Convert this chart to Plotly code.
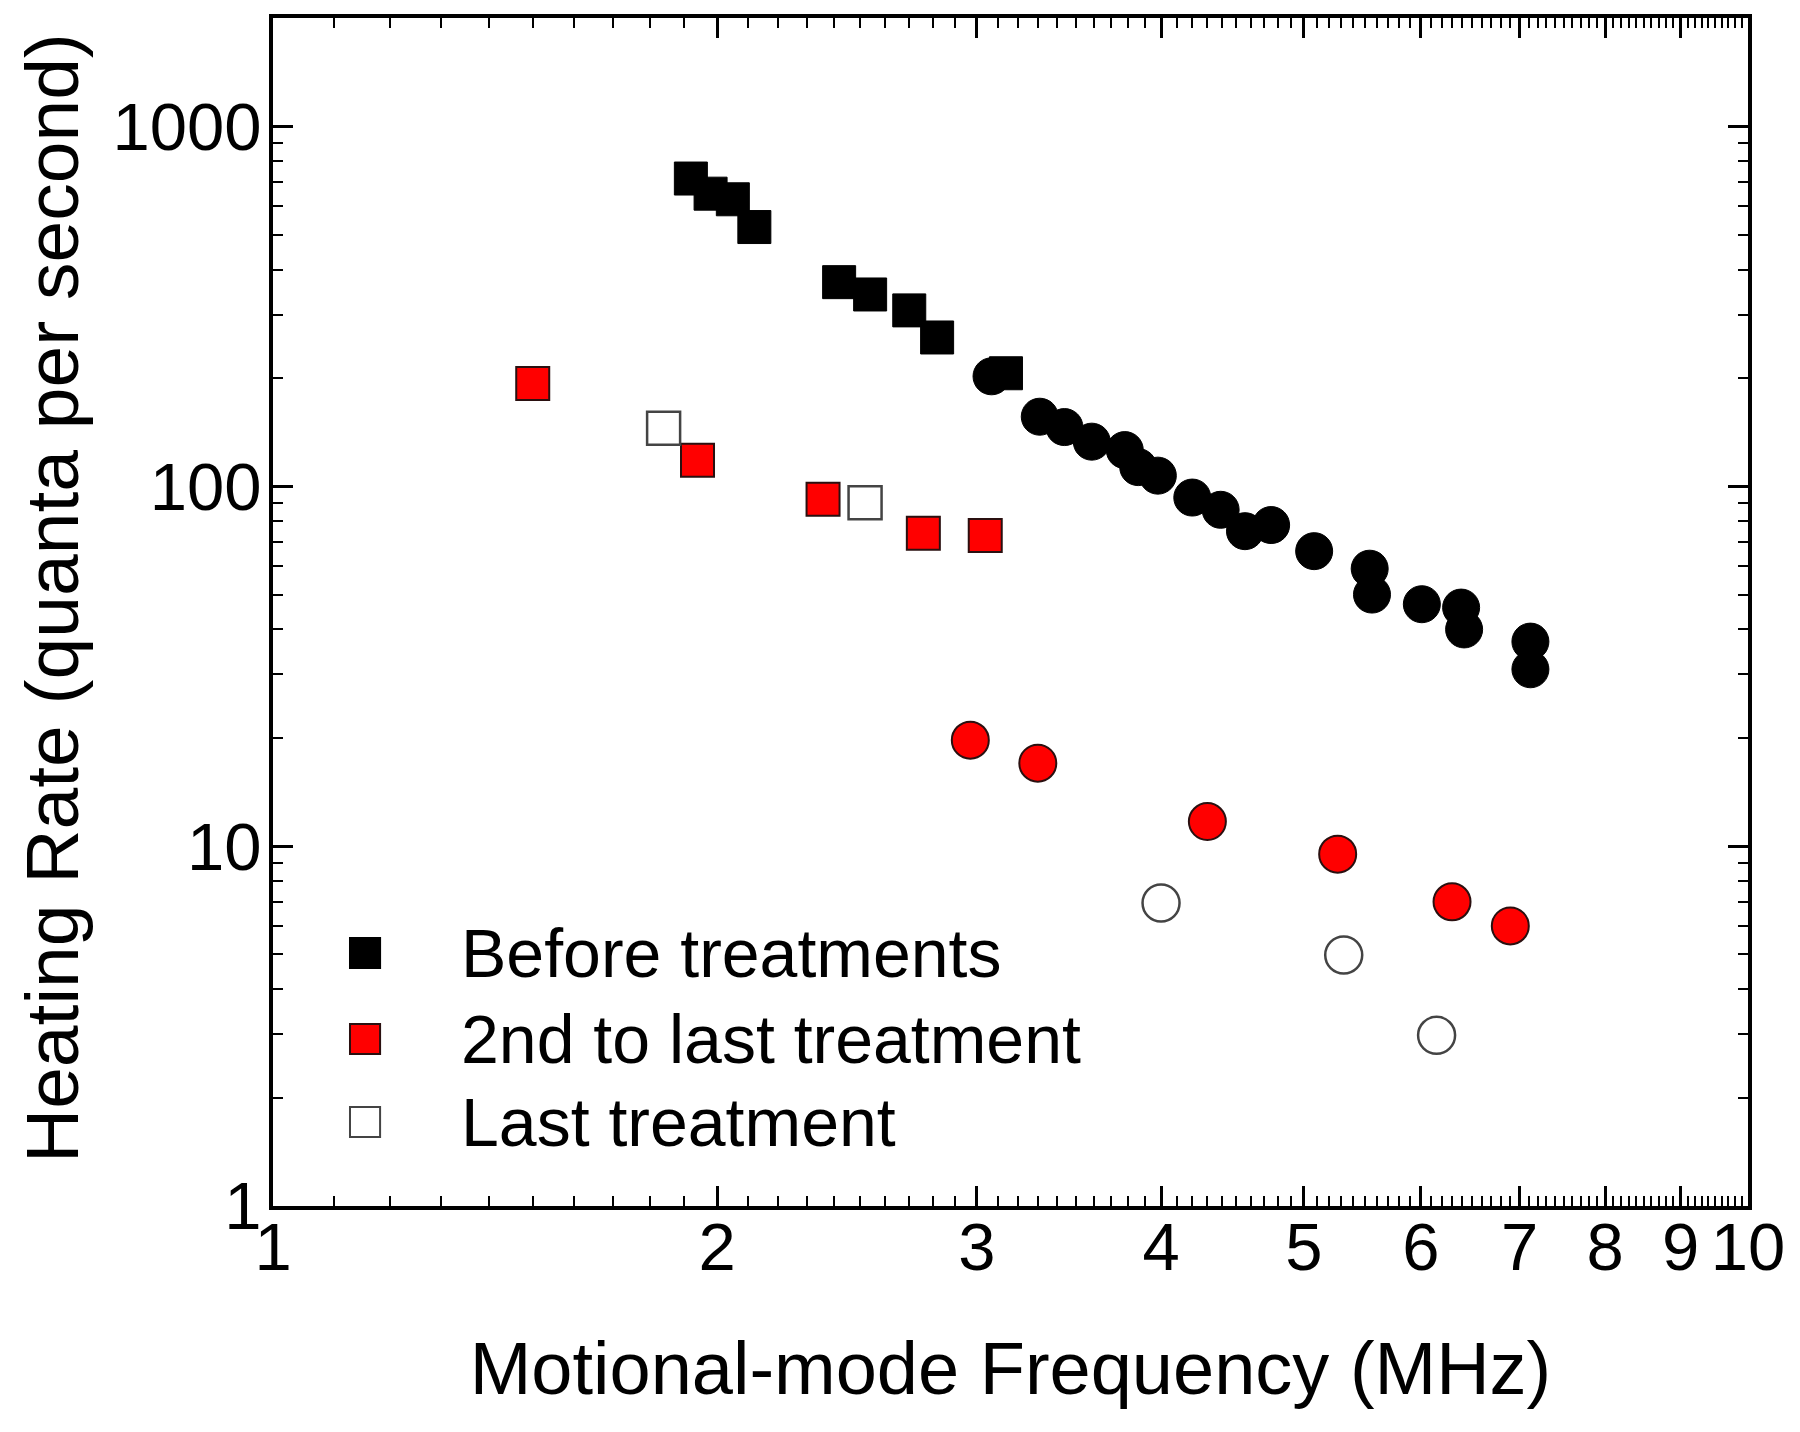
import plotly.graph_objects as go

# ---------------- data ----------------
before_sq_x = [1.92, 1.98, 2.05, 2.12, 2.42, 2.54, 2.70, 2.82, 3.14]
before_sq_y = [716, 650, 627, 525, 369, 341, 308, 259, 206]
before_ci_x = [3.07, 3.31, 3.44, 3.59, 3.78, 3.86, 3.98, 4.20, 4.39, 4.56,
               4.75, 5.08, 5.54, 5.56, 6.01, 6.39, 6.42, 7.12, 7.12]
before_ci_y = [202, 156, 146, 133, 126, 113, 107, 93, 86, 75,
               78, 66, 59, 50, 47, 46, 40, 37, 31]

second_sq_x = [1.50, 1.94, 2.36, 2.76, 3.04]
second_sq_y = [193, 118, 92, 74, 73]
second_ci_x = [2.97, 3.30, 4.30, 5.27, 6.30, 6.90]
second_ci_y = [19.7, 17.0, 11.7, 9.5, 7.0, 6.0]

last_sq_x = [1.84, 2.52]
last_sq_y = [145, 90]
last_ci_x = [4.00, 5.32, 6.15]
last_ci_y = [6.95, 4.98, 2.98]

legend_labels = ["Before treatments", "2nd to last treatment", "Last treatment"]

x_tickvals = [1, 2, 3, 4, 5, 6, 7, 8, 9, 10]
x_ticktext = ["1", "2", "3", "4", "5", "6", "7", "8", "9", "10"]
y_tickvals = [1, 10, 100, 1000]
y_ticktext = ["1", "10", "100", "1000"]

x_title = "Motional-mode Frequency (MHz)"
y_title = "Heating Rate (quanta per second)"

# ---------------- styles ----------------
FONT = "Liberation Sans, Arial, sans-serif"
RED = "#ff0000"
SQ = 33
CI = 37

styles = [
    dict(color="black", line=dict(color="black", width=1)),
    dict(color=RED, line=dict(color="#2a1010", width=2)),
    dict(color="white", line=dict(color="#444444", width=2.5)),
]

fig = go.Figure()
series = [
    (before_sq_x, before_sq_y, before_ci_x, before_ci_y),
    (second_sq_x, second_sq_y, second_ci_x, second_ci_y),
    (last_sq_x, last_sq_y, last_ci_x, last_ci_y),
]
for (sx, sy, cx, cy), st, name in zip(series, styles, legend_labels):
    fig.add_trace(go.Scatter(x=sx, y=sy, mode="markers", name=name,
                             marker=dict(symbol="square", size=SQ, **st),
                             showlegend=False))
    fig.add_trace(go.Scatter(x=cx, y=cy, mode="markers", name=name,
                             marker=dict(symbol="circle", size=CI, **st),
                             showlegend=False))

# minor tick positions
x_minor = [round(d + k / 10, 2) for d in range(1, 10) for k in range(1, 10)]
y_minor = [m * 10 ** e for e in range(0, 4) for m in range(2, 10) if m * 10 ** e <= 2000]

axis_common = dict(
    showline=True, linecolor="black", linewidth=4, mirror="ticks",
    ticks="inside", ticklen=20, tickwidth=3, tickcolor="black",
    showgrid=False, zeroline=False,
    tickfont=dict(family=FONT, size=67, color="black"),
)

fig.update_xaxes(
    type="log", range=[0, 1],
    tickvals=x_tickvals, ticktext=x_ticktext,
    ticklabelstandoff=-20,
    minor=dict(tickvals=x_minor, ticks="inside", ticklen=10, tickwidth=2,
               tickcolor="black", showgrid=False),
    title=dict(text=x_title,
               font=dict(family=FONT, size=74, color="black"), standoff=60),
    **axis_common,
)
fig.update_yaxes(
    type="log", range=[0, 3.301],
    tickvals=y_tickvals, ticktext=y_ticktext,
    ticklabelstandoff=-6,
    minor=dict(tickvals=y_minor, ticks="inside", ticklen=10, tickwidth=2,
               tickcolor="black", showgrid=False),
    **axis_common,
)

# y-axis title as a rotated annotation (positioned as in the reference)
fig.add_annotation(xref="paper", yref="paper", x=-0.1498, y=0.5118,
                   xanchor="center", yanchor="middle", showarrow=False,
                   textangle=-90, text=y_title,
                   font=dict(family=FONT, size=75, color="black"))

# custom legend (large symbols, as in the reference)
leg_y = [0.2130, 0.1406, 0.0707]
hx, hy = 0.0102, 0.0126
for yy, st, label in zip(leg_y, styles, legend_labels):
    fig.add_shape(type="rect", xref="paper", yref="paper",
                  x0=0.0624 - hx, x1=0.0624 + hx, y0=yy - hy, y1=yy + hy,
                  fillcolor=st["color"], line=dict(color=st["line"]["color"], width=2))
    fig.add_annotation(xref="paper", yref="paper", x=0.1264, y=yy,
                       xanchor="left", yanchor="middle", showarrow=False,
                       text=label, font=dict(family=FONT, size=68, color="black"))

fig.update_layout(
    width=1800, height=1432,
    margin=dict(l=273, r=52, t=18, b=226),
    plot_bgcolor="white", paper_bgcolor="white",
    showlegend=False,
)

fig.write_html("out.html")
